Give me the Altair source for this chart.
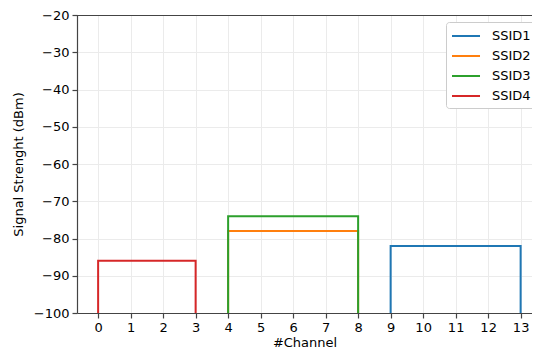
import altair as alt
import pandas as pd

ssids = ["SSID1", "SSID2", "SSID3", "SSID4"]
colors = ["#1f77b4", "#ff7f0e", "#2ca02c", "#d62728"]
start_ch = [9, 4, 4, 0]
end_ch = [13, 8, 8, 3]
level = [-82, -78, -74, -86]
floor_db = -100
x_ticks = list(range(0, 14))
y_ticks = list(range(-100, -19, 10))

rows = []
for i, s in enumerate(ssids):
    pts = [(start_ch[i], floor_db), (start_ch[i], level[i]), (end_ch[i], level[i]), (end_ch[i], floor_db)]
    for k, (xx, yy) in enumerate(pts):
        rows.append({"ssid": s, "x": xx, "y": yy, "order": k})
df = pd.DataFrame(rows)

W, H = 455, 298
minus_expr = "datum.value < 0 ? '\u2212' + abs(datum.value) : '' + datum.value"

lines = alt.Chart(df).mark_line(strokeWidth=2, clip=True).encode(
    x=alt.X("x:Q", title="#Channel",
            scale=alt.Scale(domain=[-0.65, 13.35], nice=False, zero=False),
            axis=alt.Axis(values=x_ticks, format="d")),
    y=alt.Y("y:Q", title="Signal Strenght (dBm)",
            scale=alt.Scale(domain=[-100, -20], nice=False, zero=False),
            axis=alt.Axis(values=y_ticks, labelExpr=minus_expr)),
    color=alt.Color("ssid:N", scale=alt.Scale(domain=ssids, range=colors),
                    legend=alt.Legend(title=None, orient="none", legendX=369, legendY=7,
                                      fillColor="white", strokeColor="#cccccc", padding=5,
                                      cornerRadius=3, symbolType="M-1,0H2.5", symbolSize=256,
                                      symbolStrokeWidth=2, labelOffset=23, rowPadding=4,
                                      labelFontSize=13, labelFont="DejaVu Sans", labelColor="black")),
    order=alt.Order("order:Q"),
    detail="ssid:N",
)

top = alt.Chart(df).mark_rule(color="#444444", strokeWidth=1.2).encode(
    x=alt.value(0), x2=alt.value(W), y=alt.value(0.5)
)

chart = alt.layer(lines, top).properties(
    width=W, height=H,
    autosize=alt.AutoSizeParams(type="none"),
    padding={"left": 69, "top": 7, "right": 0, "bottom": 38},
).configure_view(stroke=None).configure_axis(
    grid=True, gridColor="#ebebeb", gridWidth=1,
    domainColor="#444444", domainWidth=1.2, tickColor="#444444", tickSize=5, tickWidth=1.2,
    labelFont="DejaVu Sans", labelFontSize=13, labelColor="black", labelPadding=3,
    titleFont="DejaVu Sans", titleFontSize=13, titleColor="black", titleFontWeight="normal",
).configure_axisY(titlePadding=8).configure_axisX(titlePadding=2)

chart.save("out.html", embed_options={"renderer": "svg", "actions": False})
